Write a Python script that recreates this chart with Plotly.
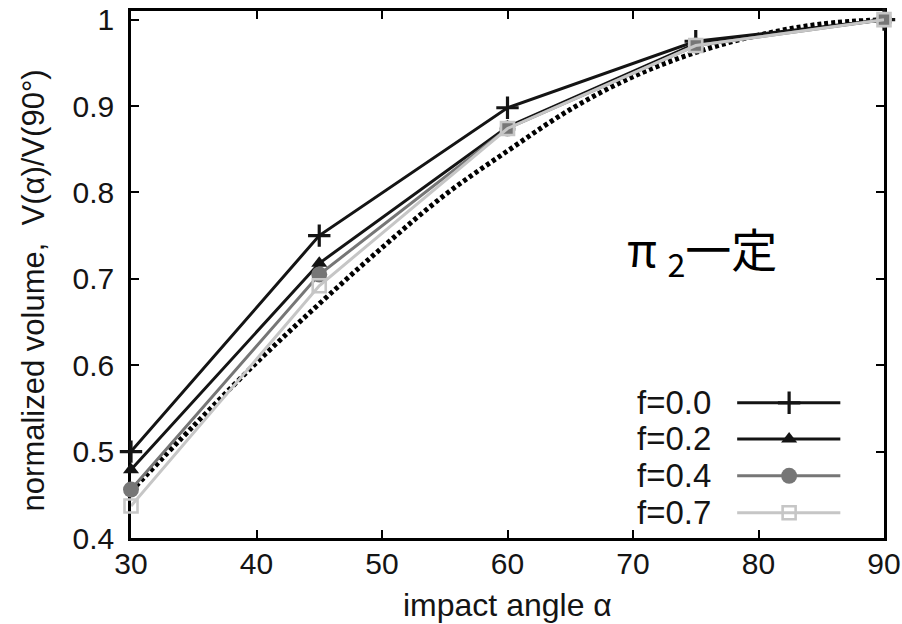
import plotly.graph_objects as go

# impact angle (deg) and normalized volume V(alpha)/V(90 deg) for each friction value f
angles = [30, 45, 60, 75, 90]
vol_f00 = [0.500, 0.750, 0.898, 0.975, 1.000]
vol_f02 = [0.479, 0.718, 0.876, 0.972, 1.000]
vol_f04 = [0.456, 0.705, 0.874, 0.970, 1.000]
vol_f07 = [0.437, 0.692, 0.874, 0.970, 1.000]

# reference curve (dotted)
ref_angles = [30, 35, 40, 45, 50, 55, 60, 65, 70, 75, 80, 85, 90]
ref_vol = [0.454, 0.530, 0.603, 0.671, 0.736, 0.797, 0.848, 0.896, 0.934,
           0.962, 0.982, 0.995, 1.000]

series_labels = ["f=0.0", "f=0.2", "f=0.4", "f=0.7"]
x_ticks = [30, 40, 50, 60, 70, 80, 90]
y_ticks = [0.4, 0.5, 0.6, 0.7, 0.8, 0.9, 1.0]
y_tick_text = ["0.4", "0.5", "0.6", "0.7", "0.8", "0.9", "1"]

FONT = "Liberation Sans, Arial, sans-serif"
DARK = "#141414"

styles = [
    dict(color=DARK, symbol="cross-thin", size=16, mline=3.2, mcolor=DARK),
    dict(color=DARK, symbol="triangle-up", size=14, mline=0, mcolor=DARK),
    dict(color="#767676", symbol="circle", size=16, mline=0, mcolor="#767676"),
    dict(color="#c6c6c6", symbol="square-open", size=13, mline=2.6, mcolor="#c6c6c6"),
]
series = [vol_f00, vol_f02, vol_f04, vol_f07]

fig = go.Figure()

fig.add_trace(go.Scatter(
    x=ref_angles, y=ref_vol, mode="lines", line_shape="spline",
    line=dict(color="#000000", width=5, dash="4px,3px"),
    showlegend=False, cliponaxis=False, hoverinfo="skip"))

for vals, st in zip(series, styles):
    fig.add_trace(go.Scatter(
        x=angles, y=vals, mode="lines+markers",
        line=dict(color=st["color"], width=3),
        marker=dict(symbol=st["symbol"], size=st["size"], color=st["mcolor"],
                    line=dict(width=st["mline"], color=st["mcolor"])),
        showlegend=False, cliponaxis=False))

# key block drawn on an overlay axis spanning the plot area (0..1 both ways)
key_x0, key_x1, key_xm = 0.805, 0.942, 0.874
key_rows = [0.2565, 0.188, 0.118, 0.048]
for lab, st, ky in zip(series_labels, styles, key_rows):
    fig.add_trace(go.Scatter(
        x=[key_x0, key_x1], y=[ky, ky], mode="lines", xaxis="x2", yaxis="y2",
        line=dict(color=st["color"], width=3), showlegend=False, hoverinfo="skip"))
    fig.add_trace(go.Scatter(
        x=[key_xm], y=[ky], mode="markers", xaxis="x2", yaxis="y2",
        marker=dict(symbol=st["symbol"], size=st["size"], color=st["mcolor"],
                    line=dict(width=st["mline"], color=st["mcolor"])),
        showlegend=False, hoverinfo="skip"))
    fig.add_annotation(x=0.773, y=ky, xref="paper", yref="paper", text=lab,
                       showarrow=False, xanchor="right", yanchor="middle",
                       font=dict(family=FONT, size=33, color=DARK))

axis_common = dict(
    showline=True, linecolor="#000000", linewidth=2.5, mirror="allticks",
    ticks="inside", ticklen=8, tickwidth=2, tickcolor="#000000",
    showgrid=False, zeroline=False, layer="below traces", automargin=False,
    tickfont=dict(family=FONT, size=30, color=DARK),
)

fig.update_layout(
    width=902, height=624,
    margin=dict(l=131, r=18, t=11, b=86, autoexpand=False),
    paper_bgcolor="white", plot_bgcolor="white",
    xaxis=dict(range=[30, 90], tickvals=x_ticks, ticklabelstandoff=-3, **axis_common),
    yaxis=dict(range=[0.4, 1.01], tickvals=y_ticks, ticktext=y_tick_text,
               ticklabelstandoff=8, **axis_common),
    xaxis2=dict(overlaying="x", anchor="y2", range=[0, 1], visible=False,
                automargin=False),
    yaxis2=dict(overlaying="y", anchor="x2", range=[0, 1], visible=False,
                automargin=False),
)

# axis titles
fig.add_annotation(x=0.5, y=-0.128, xref="paper", yref="paper",
                   text="impact angle α", showarrow=False,
                   xanchor="center", yanchor="middle",
                   font=dict(family=FONT, size=32, color=DARK))
fig.add_annotation(x=-0.13, y=0.47, xref="paper", yref="paper",
                   text="normalized volume,  V(α)/V(90°)", showarrow=False,
                   textangle=-90, xanchor="center", yanchor="middle",
                   font=dict(family=FONT, size=31, color=DARK))

# condition label
fig.add_annotation(x=0.758, y=0.5465, xref="paper", yref="paper",
                   text="π <sub>2</sub>一定", showarrow=False,
                   xanchor="center", yanchor="middle",
                   font=dict(family="Noto Sans CJK JP", size=46, color="#000000"))

fig.write_html("out.html")
